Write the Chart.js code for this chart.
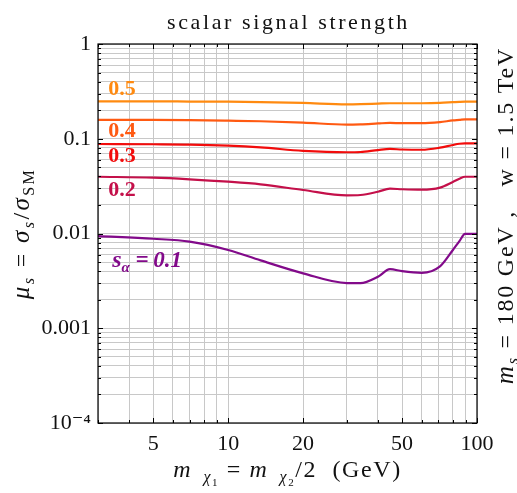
<!DOCTYPE html>
<html><head><meta charset="utf-8">
<script src="https://cdn.jsdelivr.net/npm/chart.js@4/dist/chart.umd.min.js"></script>
<style>html,body{margin:0;padding:0;background:#fff;} #wrap{width:517px;height:493px;}</style>
</head><body><div id="wrap"><canvas id="c" width="517" height="493"></canvas></div>
<script>
// ---- data ----
const massX = [3, 5, 7, 10, 13.5, 20, 30, 34, 40, 44.7, 50, 60, 71, 80, 85, 89.5, 100];
const muS05 = [0.248, 0.248, 0.247, 0.246, 0.244, 0.239, 0.231, 0.232, 0.235, 0.237, 0.237, 0.237, 0.239, 0.243, 0.245, 0.246, 0.246];
const muS04 = [0.158, 0.158, 0.157, 0.155, 0.153, 0.148, 0.141, 0.142, 0.145, 0.147, 0.146, 0.146, 0.150, 0.156, 0.158, 0.160, 0.160];
const muS03 = [0.088, 0.0875, 0.0868, 0.0845, 0.081, 0.0745, 0.072, 0.0725, 0.076, 0.078, 0.077, 0.0765, 0.0805, 0.086, 0.0885, 0.0895, 0.0895];
const muS02 = [0.0397, 0.0388, 0.0373, 0.0352, 0.033, 0.0288, 0.0253, 0.0255, 0.0276, 0.0297, 0.0293, 0.029, 0.0305, 0.035, 0.0378, 0.0397, 0.0397];
const muS01 = [0.0094, 0.0088, 0.0082, 0.0067, 0.0052, 0.0038, 0.0030, 0.0030, 0.0035, 0.0042, 0.0040, 0.00385, 0.0045, 0.0067, 0.0083, 0.0099, 0.0099];
const seriesNames = ['0.5', '0.4', '0.3', '0.2', '0.1'];
const seriesColors = ['#ff8a10', '#ff5a12', '#f20c0c', '#c4104a', '#820a8a'];
// curve label anchor points (data coordinates)
const labelX = [3.3, 3.3, 3.3, 3.3, 3.42];
const labelY = [0.29, 0.104, 0.0569, 0.0249, 0.00443];

const titleText = 'scalar signal strength';
const xGridValues = [3, 4, 5, 6, 7, 8, 9, 10, 20, 30, 40, 50, 60, 70, 80, 90, 100];
const xLabeled = [5, 10, 20, 50, 100];
const yDecades = [1e-4, 1e-3, 1e-2, 1e-1, 1];
const yDecadeLabels = ['10\u207B\u2074', '0.001', '0.01', '0.1', '1'];
const yGridMultipliers = [1, 2, 3, 4, 5, 6, 7, 8, 9];

const SERIF = '"Liberation Serif", "DejaVu Serif", serif';
const allSeries = [muS05, muS04, muS03, muS02, muS01];

const yGridValues = [];
yDecades.forEach((d, i) => {
  if (i === yDecades.length - 1) { yGridValues.push(d); return; }
  yGridMultipliers.forEach(m => yGridValues.push(+(d * m).toPrecision(3)));
});

const datasets = allSeries.map((s, i) => ({
  label: seriesNames[i],
  data: massX.map((x, j) => ({ x: x, y: s[j] })),
  borderColor: seriesColors[i],
  backgroundColor: seriesColors[i],
  borderWidth: 2.2,
  pointRadius: 0,
  fill: false,
  cubicInterpolationMode: 'monotone'
}));

function drawRich(ctx, segs, x, y, align) {
  let w = 0;
  segs.forEach(s => { ctx.font = s.f; w += ctx.measureText(s.t).width; });
  let cx = align === 'center' ? x - w / 2 : x;
  segs.forEach(s => {
    ctx.font = s.f;
    ctx.fillText(s.t, cx, y + (s.dy || 0));
    cx += ctx.measureText(s.t).width;
  });
}

const framePlugin = {
  id: 'frame',
  afterDatasetsDraw(chart) {
    const ctx = chart.ctx, a = chart.chartArea;
    const xs = chart.scales.x, ys = chart.scales.y;
    ctx.save();
    ctx.strokeStyle = '#000';
    ctx.lineWidth = 1.2;
    ctx.strokeRect(a.left, a.top, a.right - a.left, a.bottom - a.top);
    ctx.lineWidth = 1;
    ctx.beginPath();
    xGridValues.forEach(v => {
      const p = Math.round(xs.getPixelForValue(v)) + 0.5;
      const len = xLabeled.includes(v) ? 5 : 3;
      ctx.moveTo(p, a.bottom); ctx.lineTo(p, a.bottom - len);
      ctx.moveTo(p, a.top); ctx.lineTo(p, a.top + len);
    });
    yGridValues.forEach(v => {
      const p = Math.round(ys.getPixelForValue(v)) + 0.5;
      const len = yDecades.includes(v) ? 5 : 3;
      ctx.moveTo(a.left, p); ctx.lineTo(a.left + len, p);
      ctx.moveTo(a.right, p); ctx.lineTo(a.right - len, p);
    });
    ctx.stroke();

    // curve labels
    ctx.textBaseline = 'alphabetic';
    seriesNames.forEach((n, i) => {
      const px = xs.getPixelForValue(labelX[i]);
      const py = ys.getPixelForValue(labelY[i]);
      ctx.fillStyle = seriesColors[i];
      if (i === seriesNames.length - 1) {
        drawRich(ctx, [
          { t: 's', f: 'italic bold 24px ' + SERIF },
          { t: '\u03B1', f: 'italic bold 15px ' + SERIF, dy: 5 },
          { t: ' =\u2009' + n, f: 'italic bold 23px ' + SERIF }
        ], px, py, 'left');
      } else {
        ctx.font = 'bold 22px ' + SERIF;
        ctx.fillText(n, px, py);
      }
    });
    ctx.restore();
  },
  afterDraw(chart) {
    const ctx = chart.ctx, a = chart.chartArea;
    ctx.save();
    ctx.fillStyle = '#111';
    ctx.textBaseline = 'alphabetic';
    const cx = (a.left + a.right) / 2, cy = (a.top + a.bottom) / 2;
    const main = '24px ' + SERIF, it = 'italic 24px ' + SERIF;
    const sub = '16px ' + SERIF, subIt = 'italic 16px ' + SERIF;
    // title
    ctx.save();
    ctx.font = '22px ' + SERIF;
    ctx.letterSpacing = '2.6px';
    ctx.textAlign = 'center';
    ctx.fillText(titleText, cx + 1, 29);
    ctx.restore();
    // x axis title
    ctx.save();
    ctx.letterSpacing = '1.6px';
    drawRich(ctx, [
      { t: 'm', f: it },
      { t: '  \u03C7', f: subIt, dy: 5 },
      { t: '1', f: '11px ' + SERIF, dy: 9 },
      { t: ' = ', f: main },
      { t: 'm', f: it },
      { t: '  \u03C7', f: subIt, dy: 5 },
      { t: '2', f: '11px ' + SERIF, dy: 9 },
      { t: '/2  (GeV)', f: main }
    ], cx, chart.height - 16, 'center');
    ctx.restore();
    // y axis title
    ctx.save();
    ctx.letterSpacing = '2.4px';
    ctx.translate(29, cy);
    ctx.rotate(-Math.PI / 2);
    drawRich(ctx, [
      { t: '\u03BC', f: 'italic 25px ' + SERIF },
      { t: 's', f: subIt, dy: 5 },
      { t: ' = ', f: main },
      { t: '\u03C3', f: 'italic 25px ' + SERIF },
      { t: 's', f: subIt, dy: 5 },
      { t: '/', f: main },
      { t: '\u03C3', f: 'italic 25px ' + SERIF },
      { t: 'SM', f: sub, dy: 5 }
    ], 0, 0, 'center');
    ctx.restore();
    // right side label
    ctx.save();
    ctx.letterSpacing = '1.8px';
    ctx.translate(chart.width - 4, cy - 18);
    ctx.rotate(-Math.PI / 2);
    drawRich(ctx, [
      { t: 'm', f: 'italic 25px ' + SERIF },
      { t: 's', f: subIt, dy: 5 },
      { t: ' = 180 GeV ,   w = 1.5 TeV', f: main }
    ], 0, 0, 'center');
    ctx.restore();
    ctx.restore();
  }
};

new Chart(document.getElementById('c'), {
  type: 'line',
  data: { datasets },
  options: {
    responsive: false,
    animation: false,
    layout: { padding: { top: 44, right: 40, bottom: 0, left: 0 } },
    plugins: {
      legend: { display: false },
      tooltip: { enabled: false },
      title: { display: false }
    },
    scales: {
      x: {
        type: 'logarithmic',
        min: 3, max: 100,
        afterBuildTicks: s => { s.ticks = xGridValues.map(v => ({ value: v })); },
        afterFit: s => { s.height = 70; },
        grid: { color: '#c8c8c8', lineWidth: 1, drawTicks: false },
        border: { display: false },
        ticks: {
          autoSkip: false, maxRotation: 0, padding: 8, color: '#111',
          font: { family: SERIF, size: 22 },
          callback: v => xLabeled.includes(v) ? String(v) : ''
        }
      },
      y: {
        type: 'logarithmic',
        min: 1e-4, max: 1,
        afterBuildTicks: s => { s.ticks = yGridValues.map(v => ({ value: v })); },
        afterFit: s => { s.width = 98; },
        grid: { color: '#c8c8c8', lineWidth: 1, drawTicks: false },
        border: { display: false },
        ticks: {
          autoSkip: false, padding: 7, color: '#111',
          font: { family: SERIF, size: 22 },
          callback: v => { const k = yDecades.indexOf(v); return k >= 0 ? yDecadeLabels[k] : ''; }
        }
      }
    }
  },
  plugins: [framePlugin]
});
</script></body></html>
